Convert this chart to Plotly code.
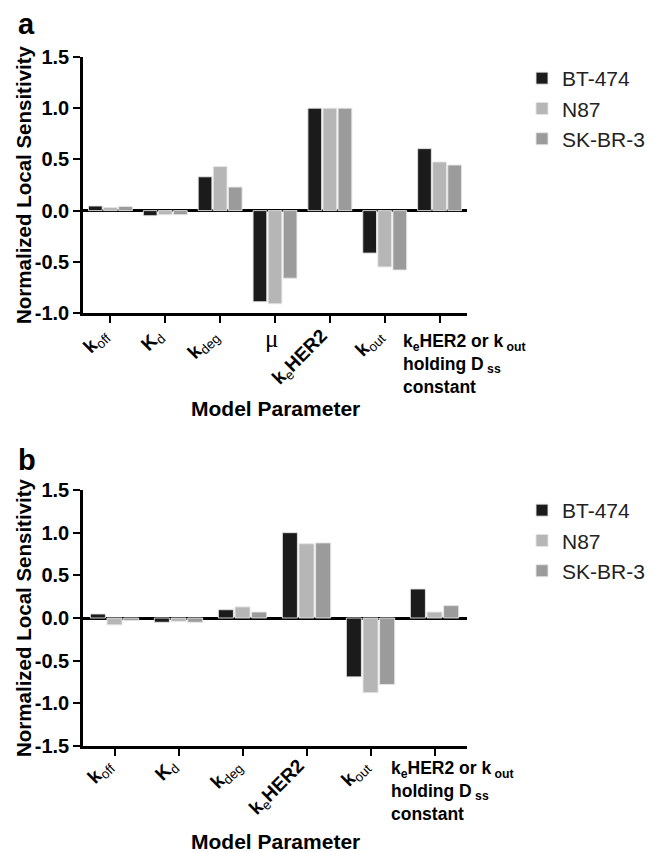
import plotly.graph_objects as go

# ---------------- data ----------------
series_names = ["BT-474", "N87", "SK-BR-3"]
series_colors = ["#1b1b1b", "#b6b6b6", "#9b9b9b"]

cats_a = ["koff", "Kd", "kdeg", "mu", "keHER2", "kout", "keHER2 or kout holding Dss constant"]
labels_a = ["<b>k</b><sub>off</sub>", "<b>K</b><sub>d</sub>", "<b>k</b><sub>deg</sub>", "μ",
            "<b>k</b><sub>e</sub><b>HER2</b>", "<b>k</b><sub>out</sub>", ""]
bt474_a = [0.045, -0.05, 0.33, -0.89, 1.00, -0.415, 0.605]
n87_a = [0.03, -0.04, 0.43, -0.91, 1.00, -0.55, 0.475]
skbr3_a = [0.04, -0.04, 0.23, -0.66, 1.00, -0.58, 0.445]

cats_b = ["koff", "Kd", "kdeg", "keHER2", "kout", "keHER2 or kout holding Dss constant"]
labels_b = ["<b>k</b><sub>off</sub>", "<b>K</b><sub>d</sub>", "<b>k</b><sub>deg</sub>",
            "<b>k</b><sub>e</sub><b>HER2</b>", "<b>k</b><sub>out</sub>", ""]
bt474_b = [0.047, -0.05, 0.097, 1.00, -0.69, 0.34]
n87_b = [-0.08, -0.04, 0.13, 0.87, -0.875, 0.07]
skbr3_b = [-0.03, -0.05, 0.07, 0.88, -0.78, 0.145]

yticks_a = [-1.0, -0.5, 0.0, 0.5, 1.0, 1.5]
yticks_b = [-1.5, -1.0, -0.5, 0.0, 0.5, 1.0, 1.5]
last_label = "<b>k<sub>e</sub>HER2 or k<sub> out</sub><br>holding D<sub> ss</sub><br>constant</b>"
y_title = "Normalized Local Sensitivity"
x_title = "Model Parameter"

FONT = "Arial, Liberation Sans, sans-serif"
W, H = 653, 852
O = 8  # page body margin offset


def xp(px):
    return (px - O) / W


def yp(py):
    return (H - (py - O)) / H


fig = go.Figure()

vals_a = [bt474_a, n87_a, skbr3_a]
vals_b = [bt474_b, n87_b, skbr3_b]

for i, (name, col) in enumerate(zip(series_names, series_colors)):
    fig.add_trace(go.Bar(
        x=cats_a, y=vals_a[i], name=name, marker_color=col,
        marker_line=dict(color="rgba(230,230,230,0.9)", width=1),
        width=0.25, offset=-0.4 + i * 0.275,
        xaxis="x", yaxis="y", legend="legend", showlegend=True))
for i, (name, col) in enumerate(zip(series_names, series_colors)):
    fig.add_trace(go.Bar(
        x=cats_b, y=vals_b[i], name=name, marker_color=col,
        marker_line=dict(color="rgba(230,230,230,0.9)", width=1),
        width=0.235, offset=-0.385 + i * 0.26,
        xaxis="x2", yaxis="y2", legend="legend2", showlegend=True))

xdom = [xp(83), xp(467)]
ydom_a = [yp(313), yp(57)]
ydom_b = [yp(746), yp(490)]

common_x = dict(showline=True, linecolor="black", linewidth=2.5, ticks="outside",
                ticklen=7, tickwidth=2, tickcolor="black", showgrid=False, zeroline=False,
                showticklabels=False, automargin=False, type="category")
common_y = dict(showline=True, linecolor="black", linewidth=2.5, ticks="outside",
                ticklen=7, tickwidth=2, tickcolor="black", showgrid=False, automargin=False,
                zeroline=True, zerolinecolor="black", zerolinewidth=2.5,
                tickfont=dict(family=FONT, size=20, color="black", weight="bold"))

fig.update_layout(
    width=W, height=H, margin=dict(l=0, r=0, t=0, b=0, autoexpand=False),
    autosize=False,
    paper_bgcolor="white", plot_bgcolor="white",
    font=dict(family=FONT, color="black"),
    barmode="group",
    xaxis=dict(domain=xdom, anchor="y", range=[-0.5, len(cats_a) - 0.5], tickmode="array",
               tickvals=cats_a, **common_x),
    yaxis=dict(domain=ydom_a, anchor="x", range=[-1.0, 1.5], tickmode="array",
               tickvals=yticks_a, ticktext=[f"{v:.1f}" for v in yticks_a], **common_y),
    xaxis2=dict(domain=xdom, anchor="y2", range=[-0.5, len(cats_b) - 0.5], tickmode="array",
                tickvals=cats_b, **common_x),
    yaxis2=dict(domain=ydom_b, anchor="x2", range=[-1.5, 1.5], tickmode="array",
                tickvals=yticks_b, ticktext=[f"{v:.1f}" for v in yticks_b], **common_y),
    legend=dict(x=xp(522), y=yp(58), xanchor="left", yanchor="top",
                font=dict(family=FONT, size=21, color="#222"), bgcolor="rgba(0,0,0,0)",
                itemwidth=30, tracegroupgap=0),
    legend2=dict(x=xp(522), y=yp(490), xanchor="left", yanchor="top",
                 font=dict(family=FONT, size=21, color="#222"), bgcolor="rgba(0,0,0,0)",
                 itemwidth=30, tracegroupgap=0),
)

ann = []
# panel letters
ann.append(dict(text="<b>a</b>", xref="paper", yref="paper", x=xp(16), y=yp(6),
                xanchor="left", yanchor="top", showarrow=False,
                font=dict(family=FONT, size=29, color="black")))
ann.append(dict(text="<b>b</b>", xref="paper", yref="paper", x=xp(16), y=yp(442),
                xanchor="left", yanchor="top", showarrow=False,
                font=dict(family=FONT, size=29, color="black")))
# y titles
for yr in ["y domain", "y2 domain"]:
    ann.append(dict(text=f"<b>{y_title}</b>", xref="paper", yref=yr, x=xp(23), y=0.5,
                    xanchor="center", yanchor="middle", textangle=-90, showarrow=False,
                    font=dict(family=FONT, size=20.5, color="black")))
# x titles
for xr, yr in [("x domain", "y domain"), ("x2 domain", "y2 domain")]:
    ann.append(dict(text=f"<b>{x_title}</b>", xref=xr, yref=yr, x=0.5, y=0,
                    yshift=-95, xanchor="center", yanchor="middle", showarrow=False,
                    font=dict(family=FONT, size=21, color="black")))

# rotated category labels placed at each category through the x axes
for xr, yr, cats, labels, ys in [("x", "y domain", cats_a, labels_a, -9),
                                 ("x2", "y2 domain", cats_b, labels_b, -6)]:
    for c, t in zip(cats, labels):
        if not t:
            continue
        if t == "μ":
            ann.append(dict(text=t, xref=xr, yref=yr, x=c, y=0, xshift=-4, yshift=-10,
                            xanchor="center", yanchor="top", showarrow=False,
                            font=dict(family="Liberation Serif, serif", size=25, color="black")))
        else:
            ann.append(dict(text=t, xref=xr, yref=yr, x=c, y=0, xshift=6, yshift=ys,
                            xanchor="right", yanchor="top", textangle=-45, showarrow=False,
                            font=dict(family=FONT, size=19, color="black")))

# last multi-line category labels
ann.append(dict(text=last_label, xref="x", yref="y domain", x=cats_a[-1], y=0,
                xshift=-39, yshift=-16, xanchor="left", yanchor="top", align="left",
                showarrow=False, font=dict(family=FONT, size=17.5, color="black")))
ann.append(dict(text=last_label, xref="x2", yref="y2 domain", x=cats_b[-1], y=0,
                xshift=-46, yshift=-10, xanchor="left", yanchor="top", align="left",
                showarrow=False, font=dict(family=FONT, size=17.5, color="black")))
fig.update_layout(annotations=ann)

fig.write_html("out.html")
